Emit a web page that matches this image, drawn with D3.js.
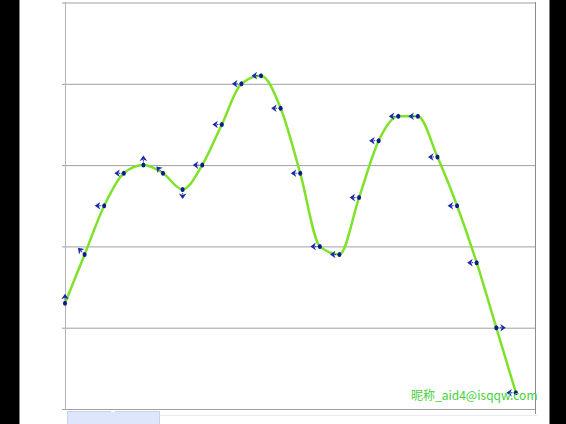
<!DOCTYPE html>
<meta charset="utf-8">
<script src="https://d3js.org/d3.v7.min.js"></script>
<style>
  body { margin: 0; background: #fff; }
</style>
<svg id="chart" width="566" height="424"></svg>
<script>

    // values, one per point
    var values = [26, 38, 50, 58, 60, 58, 54, 60, 70, 80, 82, 74, 58, 40, 38, 52, 66, 72, 72, 62, 50, 36, 20, 4];
    // which way each little handle arrow points
    var arrowDirs = ["up", "upleft", "left", "left", "up", "upleft", "down", "left", "left", "left", "left", "left",
        "left", "left", "left", "left", "left", "left", "left", "left", "left", "left", "right", "left"];
    var yTicks = [0, 20, 40, 60, 80, 100];
    var watermark = "昵称_aid4@isqqw.com";

    var svg = d3.select("#chart");

    // black side strips
    svg.append("rect").attr("x", 0).attr("y", 0).attr("width", 19).attr("height", 424).attr("fill", "#000");
    svg.append("line").attr("x1", 19.5).attr("x2", 19.5).attr("y1", 0).attr("y2", 424).attr("stroke", "#8a8a8a");
    svg.append("rect").attr("x", 549.5).attr("y", 0).attr("width", 17).attr("height", 424).attr("fill", "#000");

    var x = d3.scaleLinear().domain([0, 24]).range([65, 535.5]);
    var y = d3.scaleLinear().domain([0, 100]).range([409, 2.5]);

    // gridlines
    svg.append("g")
        .attr("transform", "translate(65,0)")
        .call(d3.axisLeft(y).tickValues(yTicks).tickSize(-470.5).tickFormat(""))
        .call(function (g) {
            g.select(".domain").remove();
            g.selectAll(".tick line").attr("stroke", "#a0a0a0").attr("x1", -3);
        });

    // left axis and right border
    svg.append("line").attr("x1", 65.5).attr("x2", 65.5).attr("y1", 2).attr("y2", 409)
        .attr("stroke", "#b4b4b4");
    svg.append("line").attr("x1", 535.5).attr("x2", 535.5).attr("y1", 2).attr("y2", 414)
        .attr("stroke", "#8c8c8c");

    // bottom strip with scrollbar
    svg.append("line").attr("x1", 67).attr("x2", 537).attr("y1", 415.5).attr("y2", 415.5)
        .attr("stroke", "#e8ecf2");
    svg.append("rect").attr("x", 67.5).attr("y", 411.5).attr("width", 92).attr("height", 14)
        .attr("fill", "#dde6fb").attr("stroke", "#c6d2ee");
    svg.append("rect").attr("x", 111).attr("y", 410).attr("width", 4).attr("height", 2).attr("fill", "#fff");

    // curve
    var line = d3.line()
        .x(function (d, i) { return x(i); })
        .y(function (d) { return y(d); })
        .curve(d3.curveMonotoneX);

    svg.append("path")
        .datum(values)
        .attr("fill", "none")
        .attr("stroke", "#7fe22a")
        .attr("stroke-width", 2.5)
        .attr("d", line);

    // handle arrows
    var angles = { left: 0, right: 180, up: 90, down: -90, upleft: 45 };
    var handles = svg.append("g")
        .selectAll("g")
        .data(values)
        .enter()
        .append("g")
        .attr("transform", function (d, i) {
            return "translate(" + x(i) + "," + y(d) + ") rotate(" + angles[arrowDirs[i]] + ")";
        });

    handles.append("line")
        .attr("x1", -5).attr("x2", -2).attr("y1", 0).attr("y2", 0)
        .attr("stroke", "#1a2aa8").attr("stroke-width", 1)
        .attr("stroke-dasharray", "1.5,1");

    handles.append("path")
        .attr("d", "M-9.5,0 L-4,-3.8 L-5.5,0 L-4,3.8 Z")
        .attr("fill", "#1a2aa8");

    svg.append("g")
        .selectAll("ellipse")
        .data(values)
        .enter()
        .append("ellipse")
        .attr("cx", function (d, i) { return x(i); })
        .attr("cy", function (d) { return y(d); })
        .attr("rx", 2)
        .attr("ry", 2.5)
        .attr("fill", "#0c1c8c");

    // watermark
    svg.append("text")
        .attr("x", 411)
        .attr("y", 400)
        .attr("font-family", "'Noto Sans CJK SC', 'DejaVu Sans', sans-serif")
        .attr("font-size", 12)
        .attr("fill", "#45cf3a")
        .text(watermark);

</script>
